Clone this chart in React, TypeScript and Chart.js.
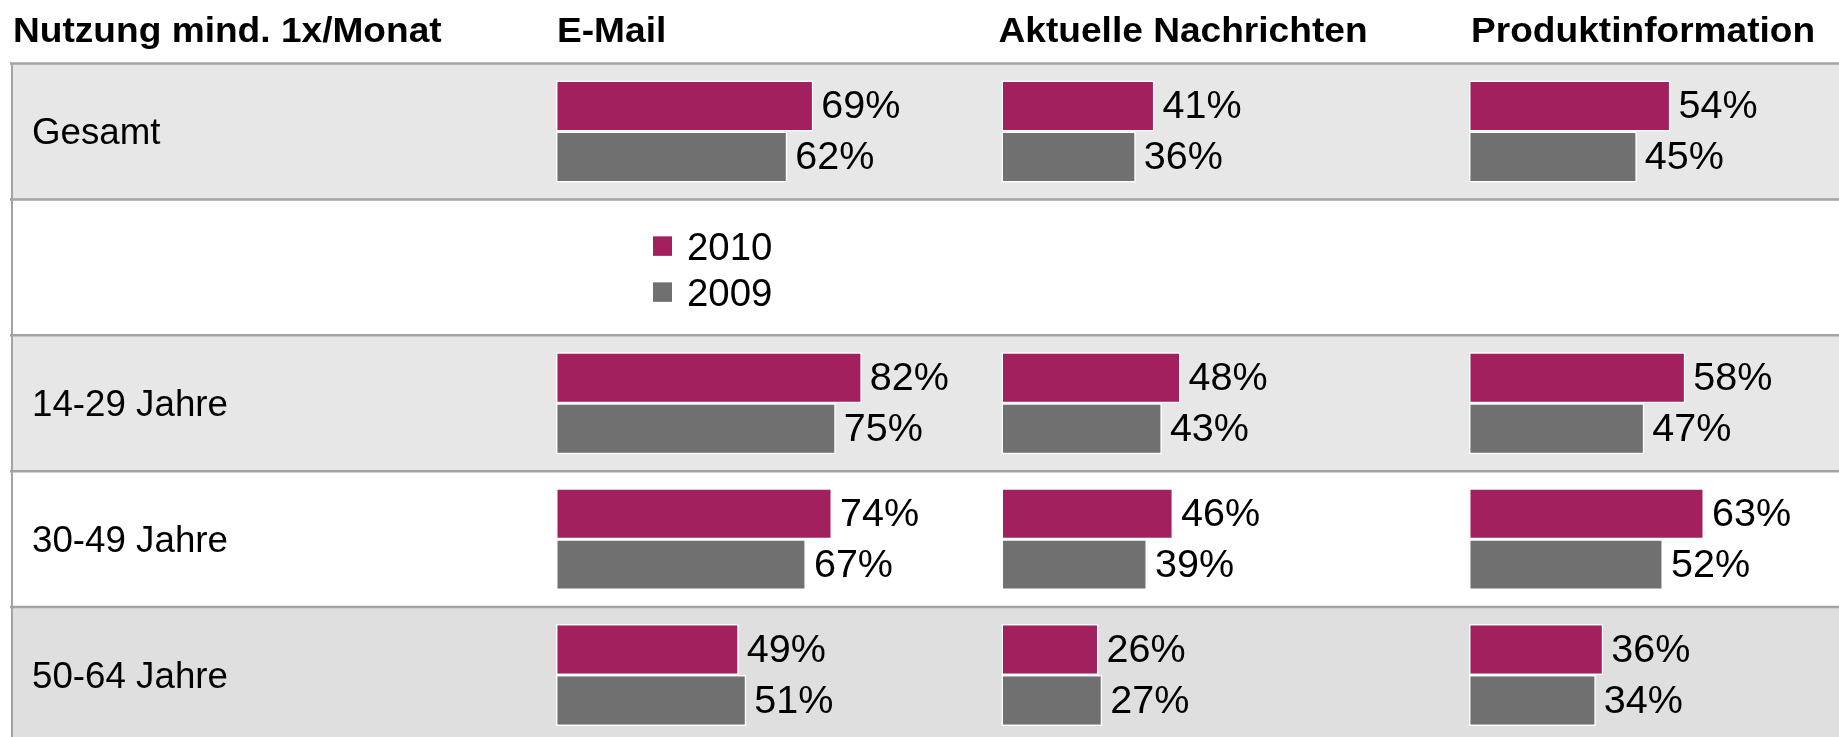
import React, { useEffect, useRef } from 'react';
import { Chart, registerables } from 'chart.js';

Chart.register(...registerables);

// ---------- data ----------
const cornerTitle = 'Nutzung mind. 1x/Monat';
const columnTitles = ['E-Mail', 'Aktuelle Nachrichten', 'Produktinformation'];
const categories = ['Gesamt', '', '14-29 Jahre', '30-49 Jahre', '50-64 Jahre'];
const seriesYears = ['2010', '2009'];

const email2010 = [69, null, 82, 74, 49];
const email2009 = [62, null, 75, 67, 51];
const news2010 = [41, null, 48, 46, 26];
const news2009 = [36, null, 43, 39, 27];
const product2010 = [54, null, 58, 63, 36];
const product2009 = [45, null, 47, 52, 34];

// ---------- layout / style ----------
const W = 1839;
const H = 750;
const VIEW_H = 737;
const TABLE_TOP = 63.5;
const TABLE_BOTTOM = 743;
const LEFT_X = 12;
const COL_BASE = [556, 1001.5, 1469];
const TITLE_DX = [1, -3, 2];
const PX_PER_PCT = 3.73;
const MAGENTA = '#A2205E';
const GRAY = '#707070';
const LINE = '#a3a3a3';
const ROW_BG = ['#e7e7e7', '#ffffff', '#e7e7e7', '#ffffff', '#dfdfdf'];
const FONT = '"Liberation Sans", Arial, Helvetica, sans-serif';

function drawText(ctx: CanvasRenderingContext2D, text: string, x: number, y: number, font: string, sx: number) {
  ctx.save();
  ctx.translate(x, y);
  ctx.scale(sx, 1);
  ctx.font = font;
  ctx.fillStyle = '#000';
  ctx.textBaseline = 'alphabetic';
  ctx.textAlign = 'left';
  ctx.fillText(text, 0, 0);
  ctx.restore();
}

const tablePlugin = {
  id: 'tablePlugin',
  beforeDatasetsDraw(chart: any) {
    const ctx: CanvasRenderingContext2D = chart.ctx;
    const y = chart.scales.y;
    const band = (y.bottom - y.top) / categories.length;
    ctx.save();
    ctx.fillStyle = '#ffffff';
    ctx.fillRect(0, 0, chart.width, chart.height);
    categories.forEach((_, i) => {
      const cy = y.getPixelForValue(i);
      ctx.fillStyle = ROW_BG[i];
      ctx.fillRect(LEFT_X, cy - band / 2, chart.width - LEFT_X, band);
    });
    ctx.strokeStyle = LINE;
    ctx.lineWidth = 2.5;
    for (let i = 0; i <= categories.length; i++) {
      const ly = y.top + i * band;
      ctx.beginPath();
      ctx.moveTo(10, ly);
      ctx.lineTo(chart.width, ly);
      ctx.stroke();
    }
    ctx.lineWidth = 2;
    ctx.beginPath();
    ctx.moveTo(LEFT_X, y.top);
    ctx.lineTo(LEFT_X, chart.height);
    ctx.stroke();

    // header
    const hFont = `bold 35px ${FONT}`;
    drawText(ctx, cornerTitle, 13, 42, hFont, 1.06);
    columnTitles.forEach((t, c) => {
      const x0 = chart.scales['x' + c].getPixelForValue(0);
      drawText(ctx, t, x0 + TITLE_DX[c], 42, hFont, 1.06);
    });

    // row labels
    categories.forEach((label, i) => {
      if (!label) return;
      const cy = y.getPixelForValue(i);
      drawText(ctx, label, 32, cy + 12.5, `36px ${FONT}`, 1.02);
    });
    ctx.restore();
  },
  afterDatasetsDraw(chart: any) {
    const ctx: CanvasRenderingContext2D = chart.ctx;
    ctx.save();
    chart.data.datasets.forEach((ds: any, d: number) => {
      const meta = chart.getDatasetMeta(d);
      meta.data.forEach((el: any, i: number) => {
        const v = ds.data[i];
        if (v === null || v === undefined) return;
        drawText(ctx, `${v}%`, el.x + 8, el.y + 12.5, `38px ${FONT}`, 1.04);
      });
    });
    // legend
    const y = chart.scales.y;
    const cy = y.getPixelForValue(1);
    const lx = chart.scales.x0.getPixelForValue(0) + 97;
    [0, 1].forEach((d) => {
      const ds = chart.data.datasets[d];
      const iy = cy + (d === 0 ? -21 : 25);
      ctx.fillStyle = ds.backgroundColor;
      ctx.fillRect(lx, iy - 10, 19, 19.5);
      drawText(ctx, ds.label, lx + 34, iy + 13.5, `38px ${FONT}`, 1.01);
    });
    ctx.restore();
  },
};

export default function App() {
  const ref = useRef<HTMLCanvasElement | null>(null);
  useEffect(() => {
    if (!ref.current) return;
    const seriesByColumn = [
      [email2010, email2009],
      [news2010, news2009],
      [product2010, product2009],
    ];
    const datasets: any[] = [];
    seriesByColumn.forEach((pair, c) => {
      pair.forEach((values, s) => {
        datasets.push({
          label: seriesYears[s],
          data: values,
          xAxisID: 'x' + c,
          yAxisID: 'y',
          stack: 's' + s,
          backgroundColor: s === 0 ? MAGENTA : GRAY,
          borderColor: '#ffffff',
          borderWidth: 1.5,
          borderSkipped: false,
          categoryPercentage: 0.75,
          barPercentage: 1,
        });
      });
    });
    const scales: any = {
      y: {
        type: 'category',
        labels: categories,
        display: false,
        offset: true,
        grid: { display: false },
      },
    };
    COL_BASE.forEach((base, c) => {
      const min = -base / PX_PER_PCT;
      scales['x' + c] = {
        type: 'linear',
        axis: 'x',
        position: 'bottom',
        display: false,
        min,
        max: min + W / PX_PER_PCT,
        grid: { display: false },
      };
    });
    const chart = new Chart(ref.current, {
      type: 'bar',
      data: { labels: categories, datasets },
      options: {
        indexAxis: 'y',
        responsive: false,
        maintainAspectRatio: false,
        animation: false,
        devicePixelRatio: 1,
        events: [],
        layout: { padding: { top: TABLE_TOP, bottom: H - TABLE_BOTTOM, left: 0, right: 0 } },
        scales,
        plugins: {
          legend: { display: false },
          tooltip: { enabled: false },
        },
      } as any,
      plugins: [tablePlugin],
    });
    return () => chart.destroy();
  }, []);
  return (
    <div style={{ position: 'absolute', left: 0, top: 0, width: W, height: VIEW_H, overflow: 'hidden', background: '#fff' }}>
      <canvas ref={ref} width={W} height={H} style={{ display: 'block', width: W, height: H }} />
    </div>
  );
}
